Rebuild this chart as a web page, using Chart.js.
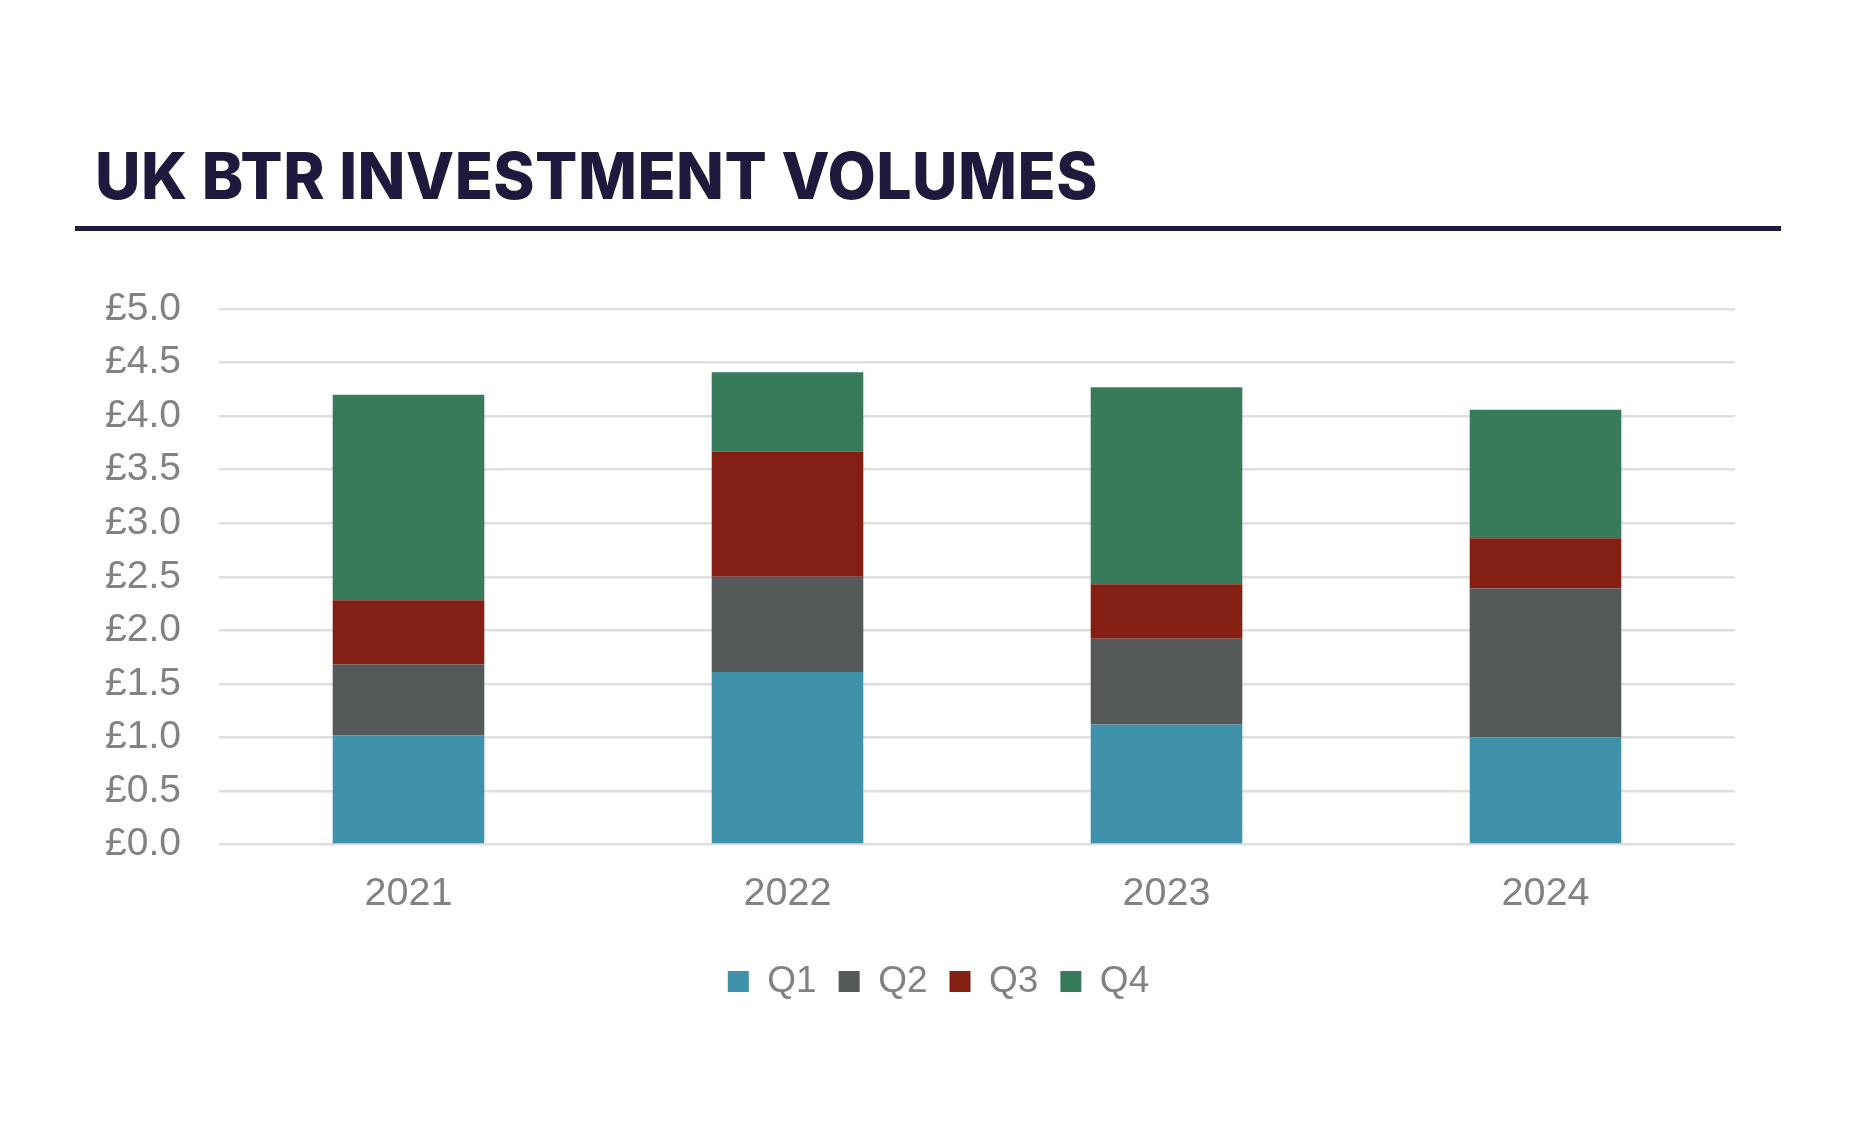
<!DOCTYPE html>
<html>
<head>
<meta charset="utf-8">
<script src="https://cdn.jsdelivr.net/npm/chart.js@4.4.1/dist/chart.umd.min.js"></script>
<style>
  html, body { margin: 0; padding: 0; background: #ffffff; }
  #wrap { position: relative; width: 1850px; height: 1138px; overflow: hidden; background: #fff; }
  #chart { position: absolute; left: 0; top: 0; }
  #title {
    position: absolute; left: 95px; top: 144px;
    font-family: "Inter", "Lato", sans-serif; font-weight: 800; font-size: 64px; line-height: 1;
    color: #1e1a3e; white-space: nowrap; transform-origin: 0 0; letter-spacing: 0.5px;
  }
  #rule { position: absolute; left: 75px; top: 226px; width: 1706px; height: 4.5px; background: #1f1a3d; }
</style>
</head>
<body>
<div id="wrap">
  <canvas id="chart" width="1850" height="1138"></canvas>
  <div id="title">UK BTR INVESTMENT VOLUMES</div>
  <div id="rule"></div>
</div>
<script>
// ---- data ----
const years = ['2021', '2022', '2023', '2024'];
const seriesNames = ['Q1', 'Q2', 'Q3', 'Q4'];
const q1 = [1.02, 1.61, 1.12, 1.00];
const q2 = [0.66, 0.89, 0.80, 1.39];
const q3 = [0.60, 1.17, 0.51, 0.47];
const q4 = [1.92, 0.74, 1.84, 1.20];
const yTickLabels = ['£0.0', '£0.5', '£1.0', '£1.5', '£2.0', '£2.5', '£3.0', '£3.5', '£4.0', '£4.5', '£5.0'];
const seriesColors = ['#4091aa', '#555959', '#832013', '#387b5b'];

const tickColor = '#808285';
const fontFamily = '"Liberation Sans", Arial, Helvetica, sans-serif';
const seriesValues = [q1, q2, q3, q4];

const datasets = seriesNames.map((name, i) => ({
  label: name,
  data: seriesValues[i],
  backgroundColor: seriesColors[i],
  borderWidth: 0,
  categoryPercentage: 1.0,
  barPercentage: 0.4
}));

// shift legend horizontally to match the reference placement
const legendShift = {
  id: 'legendShift',
  afterLayout(chart) {
    if (chart.legend) {
      chart.legend.left += 19;
      chart.legend.right += 19;
    }
  }
};

new Chart(document.getElementById('chart'), {
  type: 'bar',
  data: { labels: years, datasets },
  plugins: [legendShift],
  options: {
    responsive: false,
    animation: false,
    devicePixelRatio: 1,
    layout: { padding: { left: 104, right: 115, top: 309, bottom: 128 } },
    plugins: {
      title: { display: false },
      tooltip: { enabled: false },
      legend: {
        display: true,
        position: 'bottom',
        labels: {
          boxWidth: 21,
          boxHeight: 21,
          padding: 22,
          color: tickColor,
          font: { family: fontFamily, size: 37 }
        }
      }
    },
    scales: {
      x: {
        stacked: true,
        grid: { display: false, drawTicks: false },
        border: { display: false },
        ticks: {
          color: tickColor,
          padding: 25.5,
          font: { family: fontFamily, size: 39.5 }
        },
        afterFit: (scale) => { scale.height = 96.5; }
      },
      y: {
        stacked: true,
        min: 0,
        max: 5,
        grid: { color: '#dfdfdf', lineWidth: 2.5, drawTicks: false },
        border: { display: false },
        ticks: {
          stepSize: 0.5,
          color: tickColor,
          padding: 38,
          font: { family: fontFamily, size: 39 },
          callback: (value, index) => yTickLabels[index]
        },
        afterFit: (scale) => { scale.width = 115; }
      }
    }
  }
});

// Fit title width to the reference width
function fitTitle() {
  const t = document.getElementById('title');
  const w = t.getBoundingClientRect().width;
  const target = 1003;
  t.style.transform = 'scaleX(' + (target / w) + ')';
}
if (document.fonts && document.fonts.ready) {
  document.fonts.ready.then(fitTitle);
} else {
  fitTitle();
}
</script>
</body>
</html>
